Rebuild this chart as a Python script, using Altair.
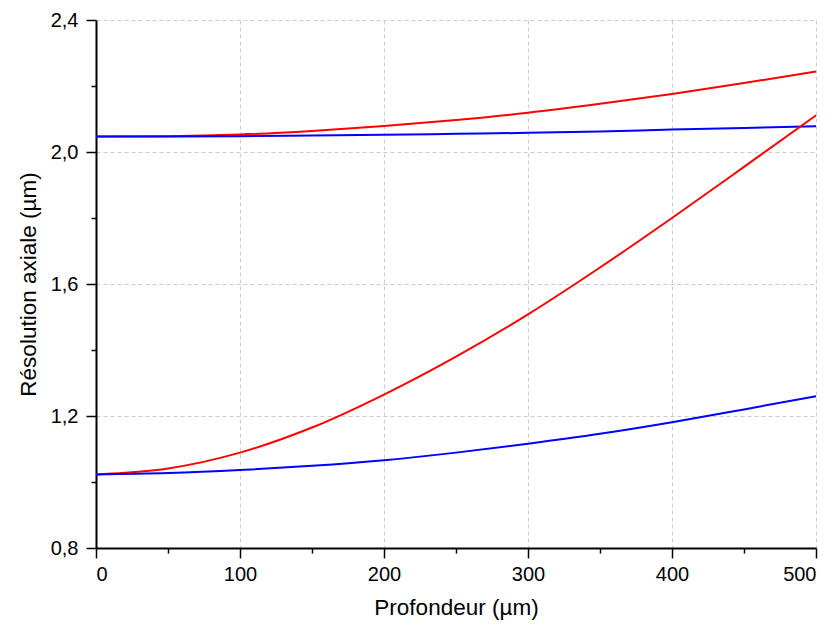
import altair as alt
import pandas as pd

depth = [0, 50, 100, 150, 200, 250, 300, 350, 400, 450, 500]
red_upper = [2.047, 2.048, 2.053, 2.064, 2.079, 2.097, 2.119, 2.146, 2.176, 2.209, 2.244]
blue_upper = [2.047, 2.047, 2.048, 2.050, 2.052, 2.055, 2.058, 2.062, 2.068, 2.073, 2.078]
red_lower = [1.023, 1.041, 1.089, 1.165, 1.265, 1.380, 1.508, 1.650, 1.800, 1.955, 2.111]
blue_lower = [1.023, 1.027, 1.036, 1.049, 1.066, 1.089, 1.116, 1.146, 1.181, 1.220, 1.260]

series_names = ["rouge haut", "bleu haut", "rouge bas", "bleu bas"]
series_colors = ["#ff0000", "#0000ff", "#ff0000", "#0000ff"]
series_values = [red_upper, blue_upper, red_lower, blue_lower]

x_major = [0, 100, 200, 300, 400, 500]
x_minor = [50, 150, 250, 350, 450]
y_major = [0.8, 1.2, 1.6, 2.0, 2.4]
y_minor = [1.0, 1.4, 1.8, 2.2]

rows = []
for name, vals in zip(series_names, series_values):
    for d, v in zip(depth, vals):
        rows.append({"depth": d, "value": v, "series": name})
df = pd.DataFrame(rows)

decimal_label = "replace(format(datum.value, '.1f'), '.', ',')"

xscale = alt.Scale(domain=[0, 500], nice=False, zero=False)
yscale = alt.Scale(domain=[0.8, 2.4], nice=False, zero=False)

lines = alt.Chart(df).mark_line(strokeWidth=2, interpolate="monotone").encode(
    x=alt.X("depth:Q", scale=xscale,
            axis=alt.Axis(values=x_major, title="Profondeur (µm)", orient="bottom",
                          grid=True, tickSize=10, labelPadding=6, titlePadding=12,
                          format="d")),
    y=alt.Y("value:Q", scale=yscale,
            axis=alt.Axis(values=y_major, title="Résolution axiale (µm)", orient="left",
                          grid=True, tickSize=10, labelPadding=8, titlePadding=10,
                          labelExpr=decimal_label)),
    color=alt.Color("series:N", scale=alt.Scale(domain=series_names, range=series_colors),
                    legend=None),
)

minor = alt.Chart(df).mark_line(opacity=0).encode(
    x=alt.X("depth:Q", scale=xscale,
            axis=alt.Axis(values=x_minor, title=None, orient="bottom", labels=False,
                          grid=False, domain=False, tickSize=5)),
    y=alt.Y("value:Q", scale=yscale,
            axis=alt.Axis(values=y_minor, title=None, orient="left", labels=False,
                          grid=False, domain=False, tickSize=5)),
    detail="series:N",
)

chart = alt.layer(lines, minor).resolve_axis(x="independent", y="independent").properties(
    width=720,
    height=528,
    autosize=alt.AutoSizeParams(type="none"),
    padding={"left": 88, "top": 12, "right": 9, "bottom": 76},
).configure_view(stroke=None).configure_axis(
    labelFont="Liberation Sans",
    titleFont="Liberation Sans",
    labelFontSize=20,
    titleFontSize=22.5,
    titleFontWeight="normal",
    labelColor="#000000",
    titleColor="#000000",
    domainColor="#000000",
    domainWidth=2,
    tickColor="#000000",
    tickWidth=1.5,
    gridColor="#cccccc",
    gridDash=[4, 3],
    gridWidth=1,
)

chart.save("out.html", embed_options={"renderer": "svg", "actions": False})
